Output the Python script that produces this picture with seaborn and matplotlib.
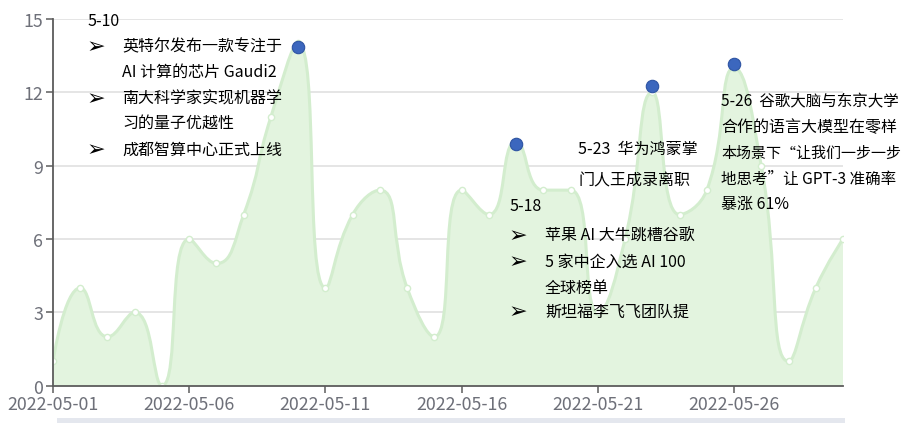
import numpy as np
import pandas as pd
import matplotlib
matplotlib.use("Agg")
import matplotlib.pyplot as plt
from matplotlib.path import Path
from matplotlib.patches import PathPatch, Rectangle
import seaborn as sns

# daily counts, 2022-05-01 .. 2022-05-30
dates = pd.date_range("2022-05-01", periods=30).strftime("%Y-%m-%d").tolist()
counts = [1, 4, 2, 3, 0, 6, 5, 7, 11, 14,
          4, 7, 8, 4, 2, 8, 7, 10, 8, 8,
          3, 6, 12, 7, 8, 13, 9, 1, 4, 6]

# highlighted days (markPoints)
mark_days = ["2022-05-10", "2022-05-18", "2022-05-23", "2022-05-26"]
mark_vals = [13.85, 9.9, 12.25, 13.15]

y_ticks = [0, 3, 6, 9, 12, 15]

W, H = 906, 427
AX_L, AX_R, AX_T, AX_B = 53, 843, 20, 386.7

LINE_C = "#d3edce"
FILL_C = "#e3f4df"
AXIS_C = "#6e7079"
TEXT_FONT = ["Noto Sans CJK SC", "DejaVu Sans"]


def smooth_path(xs, ys, sx, sy, smooth=0.5):
    """echarts style bezier smoothing, computed in pixel space"""
    pts = [(x * sx, y * sy) for x, y in zip(xs, ys)]
    verts = [pts[0]]
    codes = [Path.MOVETO]
    cp0 = pts[0]
    n = len(pts)
    for i in range(1, n):
        px_, py_ = pts[i - 1]
        x, y = pts[i]
        if i == n - 1:
            cp1 = (x, y)
            nxt = (x, y)
        else:
            nx, ny = pts[i + 1]
            vx, vy = nx - px_, ny - py_
            lp = np.hypot(x - px_, y - py_)
            ln = np.hypot(nx - x, ny - y)
            r = ln / (ln + lp)
            ncx = x + vx * smooth * r
            ncy = y + vy * smooth * r
            ncx = max(min(ncx, max(nx, x)), min(nx, x))
            ncy = max(min(ncy, max(ny, y)), min(ny, y))
            vx, vy = ncx - x, ncy - y
            c1x = x - vx * lp / ln
            c1y = y - vy * lp / ln
            c1x = max(min(c1x, max(px_, x)), min(px_, x))
            c1y = max(min(c1y, max(py_, y)), min(py_, y))
            vx, vy = x - c1x, y - c1y
            nxt = (x + vx * ln / lp, y + vy * ln / lp)
            cp1 = (c1x, c1y)
        verts += [cp0, cp1, (x, y)]
        codes += [Path.CURVE4] * 3
        cp0 = nxt
    verts = [(vx / sx, vy / sy) for vx, vy in verts]
    return verts, codes


sns.set_theme(style="white")
plt.rcParams["font.family"] = TEXT_FONT

fig = plt.figure(figsize=(W / 100, H / 100), dpi=100)
ax = fig.add_axes([AX_L / W, 1 - AX_B / H, (AX_R - AX_L) / W, (AX_B - AX_T) / H])

days = np.arange(len(counts))
sx = (AX_R - AX_L) / (len(counts) - 1)
sy = (AX_B - AX_T) / 15

verts, codes = smooth_path(days, counts, sx, sy)
fill_verts = verts + [(days[-1], 0), (days[0], 0), verts[0]]
fill_codes = codes + [Path.LINETO, Path.LINETO, Path.CLOSEPOLY]
ax.add_patch(PathPatch(Path(fill_verts, fill_codes), facecolor=FILL_C,
                       edgecolor="none", zorder=2))
ax.add_patch(PathPatch(Path(verts, codes), facecolor="none", edgecolor=LINE_C,
                       lw=2.2, zorder=3))

df = pd.DataFrame({"day": days, "count": counts})
sns.scatterplot(data=df, x="day", y="count", ax=ax, s=20, color="white",
                edgecolor=LINE_C, linewidth=1.0, zorder=4)

mk = pd.DataFrame({"day": [dates.index(d) for d in mark_days], "val": mark_vals})
sns.scatterplot(data=mk, x="day", y="val", ax=ax, s=80, color="#3c67be",
                edgecolor="#2e54a3", linewidth=0.8, zorder=5, clip_on=False)

ax.set_xlim(0, len(counts) - 1)
ax.set_ylim(0, 15)
ax.set_yticks(y_ticks)
ax.set_xticks(days[::5])
ax.set_xticklabels(dates[::5])
ax.set_xlabel("")
ax.set_ylabel("")
ax.grid(axis="y", color="#e0e0e0", lw=1.2, zorder=0)
ax.set_axisbelow(True)
for s in ["top", "right"]:
    ax.spines[s].set_visible(False)
for s in ["left", "bottom"]:
    ax.spines[s].set_color("#5c5c5c")
    ax.spines[s].set_linewidth(1.3)
    ax.spines[s].set_zorder(6)
ax.tick_params(axis="both", which="both", length=5, width=1.1, color="#5c5c5c",
               labelcolor=AXIS_C, labelsize=12.8, pad=2, left=True, bottom=True)

# slider bar under the chart
fig.patches.append(Rectangle((57 / W, 1 - 423.5 / H), (845 - 57) / W, 5 / H,
                             transform=fig.transFigure, facecolor="#e4e7ee",
                             edgecolor="none"))


def note(x, y, s, size=11.5):
    fig.text(x / W, 1 - y / H, s, ha="left", va="center", fontsize=size,
             color="black", family=TEXT_FONT, zorder=10)


def bullet(x, y):
    fig.text(x / W, 1 - y / H, "\u27a2", ha="left", va="center", fontsize=16,
             color="black", family=["DejaVu Sans"], zorder=10)


# 5-10
note(88, 21, "5-10")
bullet(87, 47)
note(122, 47, "英特尔发布一款专注于")
note(122, 72, "AI 计算的芯片 Gaudi2")
bullet(87, 99)
note(122, 99, "南大科学家实现机器学")
note(122, 124, "习的量子优越性")
bullet(87, 150)
note(122, 150, "成都智算中心正式上线")

# 5-18
note(510, 207, "5-18")
bullet(509, 236)
note(545, 236, "苹果 AI 大牛跳槽谷歌")
bullet(509, 262)
note(545, 262, "5 家中企入选 AI 100")
note(545, 288, "全球榜单")
bullet(509, 312)
note(545, 312, "斯坦福李飞飞团队提")

# 5-23
note(578, 149, "5-23  华为鸿蒙掌")
note(578, 181, "门人王成录离职")

# 5-26
note(721, 102, "5-26  谷歌大脑与东京大学", size=11.2)
note(721, 128, "合作的语言大模型在零样")
note(721, 154, "本场景下\u201c让我们一步一步", size=10.8)
note(721, 179, "地思考\u201d让 GPT-3 准确率", size=11.2)
note(721, 204, "暴涨 61%")

fig.savefig("out.png", dpi=100)
